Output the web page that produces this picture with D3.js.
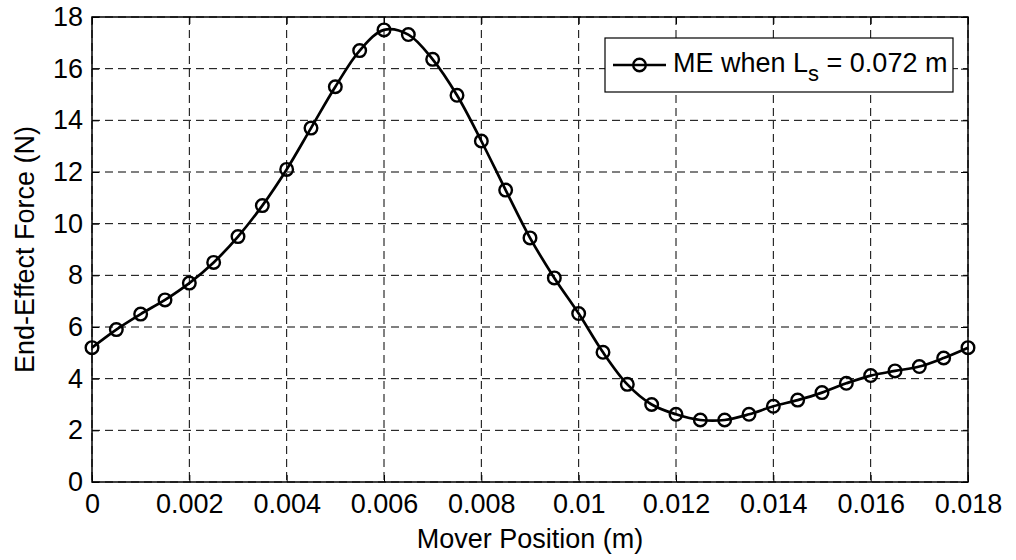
<!DOCTYPE html>
<html>
<head>
<meta charset="utf-8">
<script src="https://cdn.jsdelivr.net/npm/d3@7"></script>
<style>
  body { margin: 0; background: #fff; }
  text { font-family: "Liberation Sans", Arial, sans-serif; fill: #000; }
</style>
</head>
<body>
<div id="graph"></div>
<script>
// mover position (m) and end-effect force (N)
var positions = [0, 0.0005, 0.001, 0.0015, 0.002, 0.0025, 0.003, 0.0035, 0.004, 0.0045,
                 0.005, 0.0055, 0.006, 0.0065, 0.007, 0.0075, 0.008, 0.0085, 0.009, 0.0095,
                 0.01, 0.0105, 0.011, 0.0115, 0.012, 0.0125, 0.013, 0.0135, 0.014, 0.0145,
                 0.015, 0.0155, 0.016, 0.0165, 0.017, 0.0175, 0.018];
var forces = [5.2, 5.9, 6.5, 7.05, 7.7, 8.5, 9.5, 10.7, 12.1, 13.7,
              15.3, 16.7, 17.5, 17.32, 16.36, 14.97, 13.2, 11.3, 9.45, 7.9,
              6.52, 5.02, 3.78, 3.0, 2.62, 2.4, 2.4, 2.62, 2.93, 3.17,
              3.46, 3.82, 4.12, 4.3, 4.47, 4.8, 5.2];
var xTicks = [0, 0.002, 0.004, 0.006, 0.008, 0.01, 0.012, 0.014, 0.016, 0.018];
var xTickLabels = ["0", "0.002", "0.004", "0.006", "0.008", "0.01", "0.012", "0.014", "0.016", "0.018"];
var yTicks = [0, 2, 4, 6, 8, 10, 12, 14, 16, 18];

var w = 1016, h = 560;
var pLeft = 92, pRight = 968, pTop = 17, pBottom = 482;

var vis = d3.select("#graph").append("svg").attr("width", w).attr("height", h);

var x = d3.scaleLinear().domain([0, 0.018]).range([pLeft, pRight]);
var y = d3.scaleLinear().domain([0, 18]).range([pBottom, pTop]);

// grid
vis.append("g").selectAll("line").data(xTicks).enter().append("line")
   .attr("x1", d => x(d)).attr("x2", d => x(d))
   .attr("y1", pTop).attr("y2", pBottom)
   .attr("stroke", "#000").attr("stroke-width", 1).attr("stroke-dasharray", "8,5");
vis.append("g").selectAll("line").data(yTicks).enter().append("line")
   .attr("x1", pLeft).attr("x2", pRight)
   .attr("y1", d => y(d)).attr("y2", d => y(d))
   .attr("stroke", "#000").attr("stroke-width", 1).attr("stroke-dasharray", "8,5");

// axes (ticks inward)
vis.append("g").attr("transform", "translate(0," + pBottom + ")")
   .call(d3.axisBottom(x).tickValues(xTicks).tickFormat((d, i) => xTickLabels[i])
        .tickSizeInner(-7).tickSizeOuter(0).tickPadding(12));
vis.append("g").attr("transform", "translate(" + pLeft + ",0)")
   .call(d3.axisLeft(y).tickValues(yTicks).tickSizeInner(-7).tickSizeOuter(0).tickPadding(9));
vis.append("g").attr("transform", "translate(0," + pTop + ")")
   .call(d3.axisTop(x).tickValues(xTicks).tickFormat("").tickSizeInner(-7).tickSizeOuter(0));
vis.append("g").attr("transform", "translate(" + pRight + ",0)")
   .call(d3.axisRight(y).tickValues(yTicks).tickFormat("").tickSizeInner(-7).tickSizeOuter(0));
vis.selectAll(".domain").remove();
vis.selectAll(".tick line").attr("stroke", "#000");
vis.selectAll(".tick text").style("font-size", "27px").attr("font-family", "Liberation Sans, Arial, sans-serif");

vis.append("rect").attr("x", pLeft).attr("y", pTop)
   .attr("width", pRight - pLeft).attr("height", pBottom - pTop)
   .attr("fill", "none").attr("stroke", "#000").attr("stroke-width", 1.5);

// curve + markers
var pts = positions.map((p, i) => [p, forces[i]]);
var line = d3.line().x(d => x(d[0])).y(d => y(d[1])).curve(d3.curveCatmullRom);
vis.append("path").datum(pts).attr("d", line)
   .attr("fill", "none").attr("stroke", "#000").attr("stroke-width", 2.7);
vis.append("g").selectAll("circle").data(pts).enter().append("circle")
   .attr("cx", d => x(d[0])).attr("cy", d => y(d[1])).attr("r", 6.3)
   .attr("fill", "none").attr("stroke", "#000").attr("stroke-width", 2.4);

// axis labels
vis.append("text").attr("x", (pLeft + pRight) / 2).attr("y", 548)
   .attr("text-anchor", "middle").style("font-size", "27px").text("Mover Position (m)");
vis.append("text").attr("transform", "translate(34," + ((pTop + pBottom) / 2) + ") rotate(-90)")
   .attr("text-anchor", "middle").style("font-size", "27px").text("End-Effect Force (N)");

// legend
var lg = vis.append("g");
lg.append("rect").attr("x", 605).attr("y", 38).attr("width", 348).attr("height", 54)
  .attr("fill", "#fff").attr("stroke", "#000").attr("stroke-width", 1.2);
lg.append("line").attr("x1", 613).attr("x2", 666).attr("y1", 65).attr("y2", 65)
  .attr("stroke", "#000").attr("stroke-width", 2.7);
lg.append("circle").attr("cx", 639.5).attr("cy", 65).attr("r", 6.3)
  .attr("fill", "none").attr("stroke", "#000").attr("stroke-width", 2.4);
var lt = lg.append("text").attr("x", 673).attr("y", 72).style("font-size", "27px");
lt.append("tspan").text("ME when L");
lt.append("tspan").attr("dy", 9).style("font-size", "22px").text("s");
lt.append("tspan").attr("dy", -9).text(" = 0.072 m");
</script>
</body>
</html>
